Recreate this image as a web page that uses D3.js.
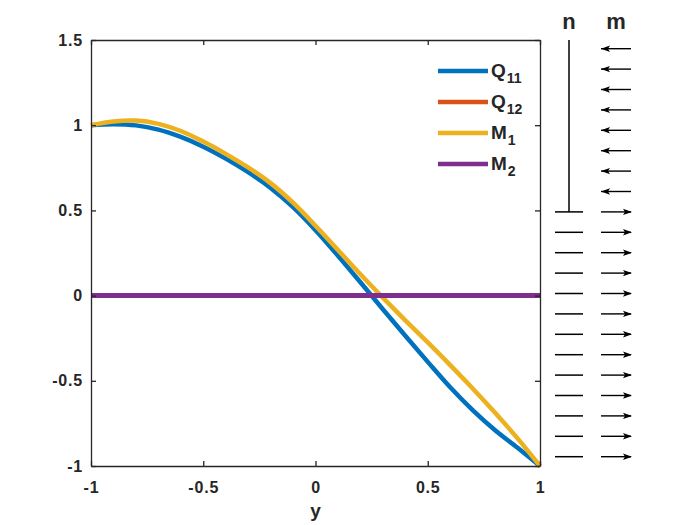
<!DOCTYPE html>
<html>
<head>
<meta charset="utf-8">
<script src="https://cdn.jsdelivr.net/npm/d3@7"></script>
<style>
  body { margin: 0; background: #fff; }
  text { font-family: "Liberation Sans", Arial, sans-serif; font-weight: bold; fill: #262626; }
</style>
</head>
<body>
<script>
// sample positions along y and the curves
var yPos = [-1, -0.9, -0.8, -0.7, -0.6, -0.5, -0.4, -0.3, -0.2, -0.1, 0,
            0.1, 0.2, 0.3, 0.4, 0.5, 0.6, 0.7, 0.8, 0.9, 1];
var q11 = [1.000, 1.006, 0.999, 0.974, 0.931, 0.874, 0.804, 0.724, 0.632, 0.519, 0.384,
           0.234, 0.078, -0.080, -0.236, -0.389, -0.538, -0.672, -0.790, -0.893, -1.000];
var q12 = [0, 0, 0, 0, 0, 0, 0, 0, 0, 0, 0, 0, 0, 0, 0, 0, 0, 0, 0, 0, 0];
var m1 = [1.000, 1.022, 1.027, 1.008, 0.966, 0.904, 0.832, 0.752, 0.660, 0.545, 0.410,
          0.268, 0.125, -0.012, -0.145, -0.275, -0.408, -0.545, -0.688, -0.838, -1.000];
var m2 = [0, 0, 0, 0, 0, 0, 0, 0, 0, 0, 0, 0, 0, 0, 0, 0, 0, 0, 0, 0, 0];

var seriesNames = ["Q11", "Q12", "M1", "M2"];
var xTicks = [-1, -0.5, 0, 0.5, 1];
var xTickLabels = ["-1", "-0.5", "0", "0.5", "1"];
var yTicks = [-1, -0.5, 0, 0.5, 1, 1.5];
var yTickLabels = ["-1", "-0.5", "0", "0.5", "1", "1.5"];

// schematic on the right: direction of m in each layer, top to bottom
var mDir = ["left", "left", "left", "left", "left", "left", "left", "left",
            "right", "right", "right", "right", "right", "right", "right",
            "right", "right", "right", "right", "right", "right"];

var W = 700, H = 525;
var pLeft = 91, pTop = 40, pRight = 540, pBottom = 466;
var colors = ["#0072BD", "#D95319", "#EDB120", "#7E2F8E"];
var axisColor = "#262626";

var svg = d3.select("body").append("svg")
  .attr("width", W)
  .attr("height", H);

var xScale = d3.scaleLinear().domain([-1, 1]).range([pLeft, pRight]);
var yScale = d3.scaleLinear().domain([-1, 1.5]).range([pBottom, pTop]);

/* ===== CURVES ===== */

var line = d3.line()
  .x(function (d) { return xScale(d[0]); })
  .y(function (d) { return yScale(d[1]); })
  .curve(d3.curveCatmullRom);

var allSeries = [q11, q12, m1, m2];
allSeries.forEach(function (vals, k) {
  svg.append("path")
    .datum(yPos.map(function (y, i) { return [y, vals[i]]; }))
    .attr("d", line)
    .attr("fill", "none")
    .attr("stroke", colors[k])
    .attr("stroke-width", k == 3 ? 5 : 4.5)
    .attr("stroke-linejoin", "round");
});

/* ===== AXES ===== */

var xAxis = d3.axisBottom(xScale)
  .tickValues(xTicks)
  .tickFormat(function (d, i) { return xTickLabels[i]; })
  .tickSizeInner(-5).tickSizeOuter(0).tickPadding(16);
var yAxis = d3.axisLeft(yScale)
  .tickValues(yTicks)
  .tickFormat(function (d, i) { return yTickLabels[i]; })
  .tickSizeInner(-5).tickSizeOuter(0).tickPadding(8);
var xTop = d3.axisTop(xScale).tickValues(xTicks).tickFormat("")
  .tickSizeInner(-5).tickSizeOuter(0);
var yRight = d3.axisRight(yScale).tickValues(yTicks).tickFormat("")
  .tickSizeInner(-5).tickSizeOuter(0);

function styleAxis(g) {
  g.select(".domain").attr("stroke", axisColor).attr("stroke-width", 1.3);
  g.selectAll(".tick line").attr("stroke", axisColor).attr("stroke-width", 1.3);
  g.selectAll(".tick text")
    .attr("fill", axisColor)
    .attr("font-size", "16px")
    .attr("font-weight", "bold")
    .attr("font-family", "Liberation Sans, Arial, sans-serif")
    .attr("letter-spacing", "0.8px");
}

svg.append("g").attr("transform", "translate(0," + pBottom + ")").call(xAxis).call(styleAxis);
svg.append("g").attr("transform", "translate(" + pLeft + ",0)").call(yAxis).call(styleAxis);
svg.append("g").attr("transform", "translate(0," + pTop + ")").call(xTop).call(styleAxis);
svg.append("g").attr("transform", "translate(" + pRight + ",0)").call(yRight).call(styleAxis);

svg.append("text")
  .attr("x", (pLeft + pRight) / 2)
  .attr("y", 517)
  .attr("text-anchor", "middle")
  .attr("font-size", "19px")
  .text("y");

/* ===== LEGEND ===== */

var legend = svg.selectAll("g.legend")
  .data(seriesNames)
  .enter().append("g")
  .attr("class", "legend")
  .attr("transform", function (d, i) { return "translate(438," + (71 + i * 31) + ")"; });

legend.append("line")
  .attr("x1", 0).attr("x2", 50)
  .attr("stroke", function (d, i) { return colors[i]; })
  .attr("stroke-width", 4.5);

var lt = legend.append("text")
  .attr("x", 53)
  .attr("y", 6)
  .attr("font-size", "19px");
lt.append("tspan").text(function (d) { return d.charAt(0); });
lt.append("tspan")
  .attr("dy", 6)
  .attr("dx", 1)
  .attr("font-size", "14px")
  .text(function (d) { return d.slice(1); });

/* ===== n / m SCHEMATIC ===== */

var nX = 569, mX = 616;
var rowY = d3.scalePoint()
  .domain(mDir.map(function (d, i) { return i; }))
  .range([48.7, 456.7]);

var firstRight = mDir.indexOf("right");

svg.append("text").attr("x", nX).attr("y", 29).attr("text-anchor", "middle")
  .attr("font-size", "22px").text("n");
svg.append("text").attr("x", mX).attr("y", 29).attr("text-anchor", "middle")
  .attr("font-size", "22px").text("m");

svg.append("line")
  .attr("x1", nX).attr("x2", nX)
  .attr("y1", pTop).attr("y2", rowY(firstRight))
  .attr("stroke", "#000").attr("stroke-width", 1.5);

svg.selectAll("line.dash")
  .data(mDir.map(function (d, i) { return i; }).filter(function (i) { return mDir[i] == "right"; }))
  .enter().append("line")
  .attr("class", "dash")
  .attr("x1", 555).attr("x2", 583)
  .attr("y1", function (i) { return rowY(i); })
  .attr("y2", function (i) { return rowY(i); })
  .attr("stroke", "#000").attr("stroke-width", 1.5);

var arrows = svg.selectAll("g.arrow")
  .data(mDir)
  .enter().append("g")
  .attr("class", "arrow")
  .attr("transform", function (d, i) { return "translate(0," + rowY(i) + ")"; });

arrows.append("line")
  .attr("x1", 601).attr("x2", 631)
  .attr("stroke", "#000").attr("stroke-width", 1.4);

arrows.append("path")
  .attr("d", function (d) {
    if (d == "left") return "M601,0 L610,-3.2 L608,0 L610,3.2 Z";
    return "M632,0 L623,-3.2 L625,0 L623,3.2 Z";
  })
  .attr("fill", "#000");
</script>
</body>
</html>
